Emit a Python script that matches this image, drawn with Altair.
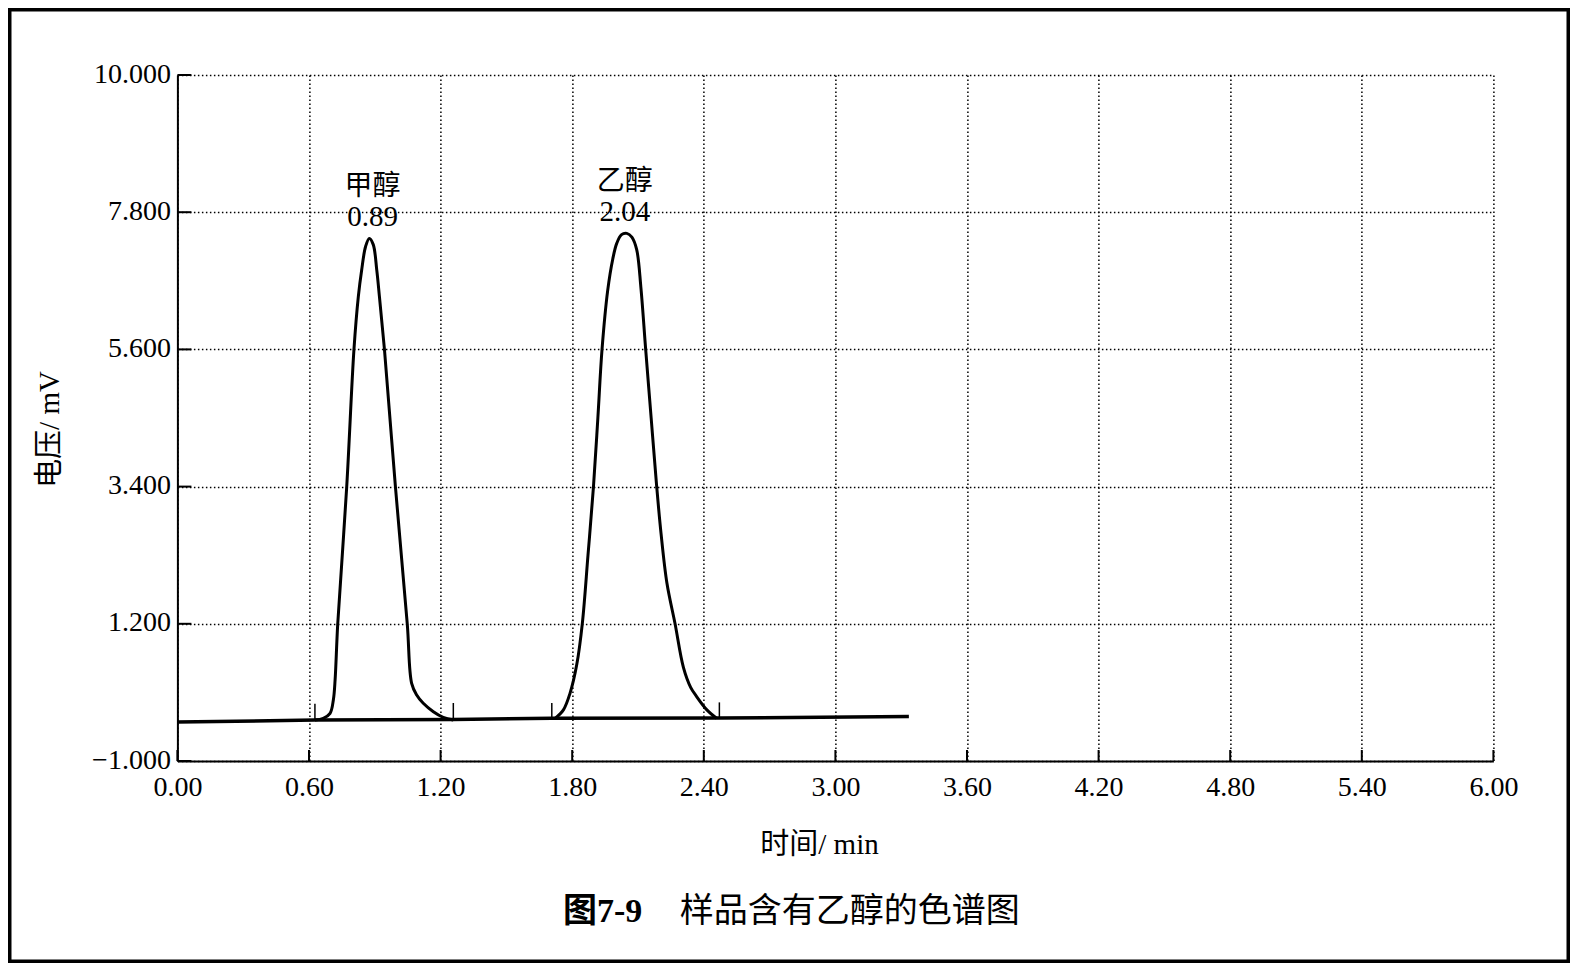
import altair as alt
import pandas as pd

# ---------------- data ----------------
x_ticks = [0.0, 0.6, 1.2, 1.8, 2.4, 3.0, 3.6, 4.2, 4.8, 5.4, 6.0]
y_ticks = [-1.0, 1.2, 3.4, 5.6, 7.8, 10.0]

baseline_t = [0.0, 0.627, 1.258, 1.707, 2.471, 3.335]
baseline_v = [-0.375, -0.343, -0.335, -0.316, -0.31, -0.288]

peak1_t = [0.627, 0.665, 0.696, 0.711, 0.719, 0.731, 0.772, 0.805, 0.825, 0.840, 0.858,
           0.875, 0.893, 0.909, 0.921, 0.944, 0.994, 1.048, 1.068, 1.091, 1.121, 1.167,
           1.212, 1.258]
peak1_v = [-0.343, -0.316, -0.236, -0.02, 0.30, 1.20, 3.40, 5.60, 6.45, 6.87, 7.25,
           7.38, 7.28, 6.87, 6.45, 5.60, 3.40, 1.20, 0.245, 0.058, -0.075, -0.21,
           -0.30, -0.343]

peak2_t = [1.722, 1.760, 1.790, 1.821, 1.846, 1.872, 1.897, 1.917, 1.936, 1.962, 1.985,
           2.003, 2.025, 2.049, 2.072, 2.094, 2.113, 2.135, 2.160, 2.184, 2.205, 2.232,
           2.269, 2.307, 2.340, 2.368, 2.414, 2.459]
peak2_v = [-0.316, -0.18, 0.085, 0.55, 1.20, 2.30, 3.40, 4.50, 5.60, 6.55, 7.05,
           7.30, 7.44, 7.46, 7.40, 7.20, 6.60, 5.60, 4.50, 3.45, 2.65, 1.85,
           1.20, 0.50, 0.18, 0.03, -0.18, -0.316]

boundary_t = [0.627, 1.258, 1.707, 2.471]
boundary_v = [-0.343, -0.335, -0.316, -0.31]
boundary_top = [-0.08, -0.07, -0.07, -0.06]

peak_names = ["甲醇", "乙醇"]
peak_rt = [0.89, 2.04]
peak_rt_label = ["0.89", "2.04"]
peak_height = [7.38, 7.46]

x_title = "时间/ min"
y_title = "电压/ mV"
title_prefix = "图7-9"
title_main = "样品含有乙醇的色谱图"

# ---------------- tables ----------------
W, H = 1316, 686
serif = "Liberation Serif, Noto Sans CJK SC"
cjk = "Noto Sans CJK SC"

base_df = pd.DataFrame({"t": baseline_t, "v": baseline_v})
peaks_df = pd.DataFrame({
    "t": peak1_t + peak2_t,
    "v": peak1_v + peak2_v,
    "peak": ["p1"] * len(peak1_t) + ["p2"] * len(peak2_t),
})
bound_df = pd.DataFrame({"t": boundary_t, "v": boundary_v, "v2": boundary_top})
lab_df = pd.DataFrame({"t": peak_rt, "v": peak_height, "name": peak_names, "rt": peak_rt_label})
xt_df = pd.DataFrame({"t": x_ticks})
yt_df = pd.DataFrame({"v": y_ticks})
one = pd.DataFrame({"a": [0]})

xscale = alt.Scale(domain=[0, 6], nice=False, zero=False)
yscale = alt.Scale(domain=[-1, 10], nice=False, zero=False)

xaxis = alt.Axis(values=x_ticks, format=".2f", title=x_title, grid=True, labelFlush=False,
                 labelFontSize=28, labelPadding=12,
                 titleX=641.6, titleY=83, titleBaseline="middle", titleAlign="center")
yaxis = alt.Axis(values=y_ticks, format=".3f", title=y_title, grid=True, labelFlush=False,
                 labelFontSize=28, labelPadding=7, labelOffset=-1,
                 titleX=-128.4, titleY=354, titleAngle=270,
                 titleBaseline="middle", titleAlign="center")


def X(f):
    return alt.X(f, type="quantitative", scale=xscale, axis=xaxis)


def Y(f):
    return alt.Y(f, type="quantitative", scale=yscale, axis=yaxis)


baseline = alt.Chart(base_df).mark_line(color="black", strokeWidth=3.5).encode(
    x=X("t"), y=Y("v"))

peaks = alt.Chart(peaks_df).mark_line(color="black", strokeWidth=3,
                                      interpolate="catmull-rom").encode(
    x=X("t"), y=Y("v"), detail="peak:N")

bounds = alt.Chart(bound_df).mark_rule(color="black", strokeWidth=1.5).encode(
    x=X("t"), y=Y("v"), y2="v2")

xtick_marks = alt.Chart(xt_df).mark_rule(color="black", strokeWidth=2).encode(
    x=X("t"), y=alt.value(H), y2=alt.value(H - 11))

ytick_marks = alt.Chart(yt_df).mark_rule(color="black", strokeWidth=2).encode(
    y=Y("v"), x=alt.value(0), x2=alt.value(14))

names = alt.Chart(lab_df).mark_text(font=cjk, fontSize=28, color="black", dy=-51,
                                    baseline="middle", align="center").encode(
    x=X("t"), y=Y("v"), text="name:N")

rts = alt.Chart(lab_df).mark_text(font="Liberation Serif", fontSize=29, color="black", dy=-21,
                                  baseline="middle", align="center").encode(
    x=X("t"), y=Y("v"), text="rt:N")

title1 = alt.Chart(one).mark_text(font=serif, fontSize=34, fontWeight="bold", color="black",
                                  align="left", baseline="middle").encode(
    x=alt.value(385.6), y=alt.value(837), text=alt.value(title_prefix))

title2 = alt.Chart(one).mark_text(font=cjk, fontSize=34, color="black",
                                  align="left", baseline="middle").encode(
    x=alt.value(502.3), y=alt.value(837), text=alt.value(title_main))

frame = alt.Chart(one).mark_rect(filled=False, stroke="black", strokeWidth=3.5).encode(
    x=alt.value(-167.65), x2=alt.value(1390.85), y=alt.value(-65.25), y2=alt.value(886.25))

chart = alt.layer(
    baseline, peaks, bounds, xtick_marks, ytick_marks, names, rts, title1, title2, frame
).properties(
    width=W, height=H,
    autosize=alt.AutoSizeParams(type="none"),
    padding={"left": 169.4, "top": 67, "right": 76.6, "bottom": 202},
    background="white",
).configure_view(
    stroke=None
).configure_axis(
    domainColor="black", domainWidth=2,
    ticks=False, tickSize=0,
    gridColor="black", gridDash=[1.5, 2.5], gridWidth=1.5, gridOpacity=1,
    labelFont="Liberation Serif", labelColor="black",
    titleFont=serif, titleFontSize=29, titleFontWeight="normal", titleColor="black",
)

chart.save("out.html", embed_options={"renderer": "svg", "actions": False})
